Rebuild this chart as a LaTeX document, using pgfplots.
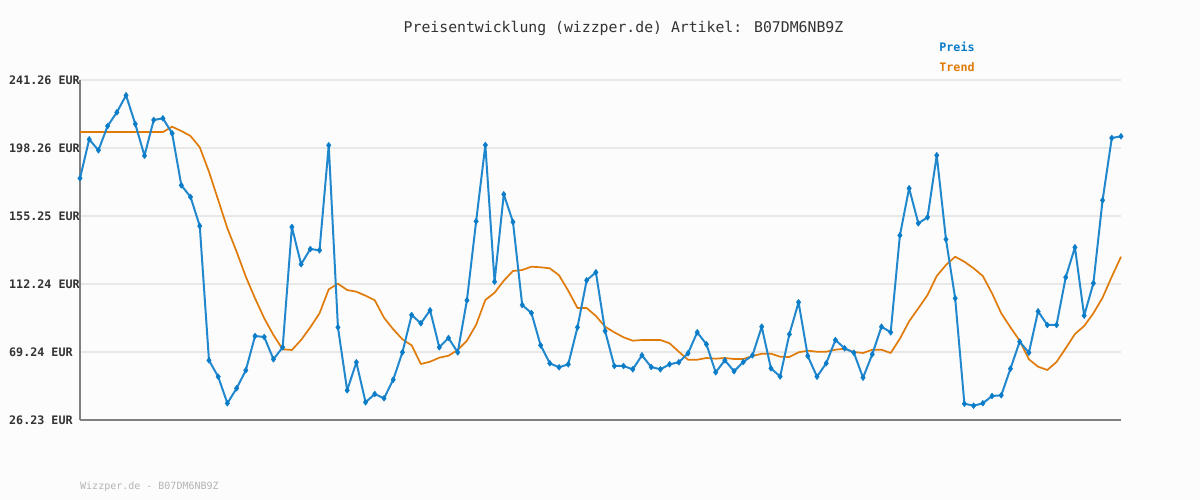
\documentclass[border=0pt]{standalone}
\usepackage{fontspec}
\setmainfont{DejaVu Sans Mono}
\setmonofont{DejaVu Sans Mono}
\usepackage{pgfplots}
\usepackage{pgfplotstable}
\pgfplotsset{compat=1.18}
\definecolor{bgc}{HTML}{FCFCFC}
\definecolor{gridc}{HTML}{E8E8E8}
\definecolor{axc}{HTML}{808080}
\definecolor{preisc}{HTML}{0A7CC8}
\definecolor{preisl}{HTML}{2288CE}
\definecolor{trendc}{HTML}{E07B0A}
\definecolor{txtc}{HTML}{333333}
\definecolor{wmc}{HTML}{B4B4B4}
\pgfplotstableread{
i p t
0 179.08 208.36
1 203.75 208.36
2 196.79 208.36
3 212.16 208.36
4 220.82 208.36
5 231.58 208.36
6 213.42 208.36
7 193.37 208.36
8 215.95 208.36
9 217.03 208.36
10 207.54 211.71
11 174.65 208.99
12 167.26 205.83
13 148.92 198.69
14 63.98 183.26
15 53.61 165.36
16 36.79 147.46
17 46.28 132.66
18 57.66 116.85
19 79.35 103.19
20 78.72 90.55
21 64.62 79.98
22 72.21 70.94
23 148.28 70.50
24 124.70 76.82
25 134.37 84.85
26 133.55 93.71
27 199.95 108.88
28 84.85 112.43
29 45.01 108.44
30 62.72 107.37
31 37.42 104.84
32 42.67 101.93
33 39.95 90.92
34 51.72 83.59
35 69.04 77.26
36 92.63 73.47
37 87.38 61.64
38 95.60 63.10
39 72.21 65.63
40 78.09 66.89
41 69.04 70.50
42 101.93 76.38
43 151.89 86.50
44 200.14 102.12
45 113.69 106.73
46 168.96 114.32
47 151.45 120.46
48 98.96 121.09
49 93.90 123.18
50 73.47 122.80
51 62.09 122.16
52 59.56 117.74
53 61.45 108.00
54 84.85 97.06
55 114.58 97.06
56 119.64 92.00
57 82.51 85.23
58 60.38 81.69
59 60.38 78.53
60 58.29 76.38
61 67.15 76.82
62 59.75 76.82
63 58.29 76.82
64 61.45 74.73
65 62.72 69.42
66 68.41 64.36
67 81.69 64.36
68 74.10 65.44
69 56.40 65.00
70 63.98 65.44
71 57.03 64.81
72 62.91 64.81
73 67.15 66.70
74 85.23 68.16
75 58.92 68.16
76 53.74 66.26
77 80.43 66.07
78 100.66 69.04
79 66.70 70.06
80 53.61 69.42
81 62.09 69.42
82 76.82 70.69
83 71.57 71.32
84 68.79 69.23
85 52.98 68.60
86 67.78 70.69
87 85.23 70.69
88 81.69 68.60
89 143.03 77.64
90 172.76 88.65
91 150.62 96.87
92 154.42 105.28
93 193.63 117.30
94 140.50 124.25
95 103.19 129.50
96 36.54 126.34
97 35.27 122.16
98 36.79 117.30
99 41.41 106.35
100 41.85 93.71
101 58.67 84.85
102 75.75 76.38
103 68.79 64.62
104 94.97 59.94
105 86.31 57.85
106 86.31 62.91
107 116.47 71.57
108 135.44 80.62
109 92.19 85.68
110 112.68 93.71
111 165.17 103.57
112 204.57 116.85
113 205.64 129.50
}\datatable
\begin{document}
\begin{tikzpicture}[x=1pt,y=1pt]
\useasboundingbox (0,0) rectangle (1200,500);
\fill[bgc] (0,0) rectangle (1200,500);
\begin{axis}[
  at={(80pt,80pt)},anchor=south west,
  scale only axis,width=1041pt,height=340pt,
  xmin=0,xmax=113,ymin=26.23,ymax=241.26,
  axis lines=left,
  axis line style={axc,line width=2.2pt,-},
  clip=false,
  xtick=\empty,
  ytick={26.23,69.24,112.24,155.25,198.26,241.26},
  yticklabels={26.23 EUR,69.24 EUR,112.24 EUR,155.25 EUR,198.26 EUR,241.26 EUR},
  ymajorgrids,
  grid style={gridc,line width=2pt},
  major tick length=0pt,
  tick style={draw=none},
  yticklabel style={font=\fontsize{11.7}{12}\selectfont\bfseries,text=txtc,anchor=west,inner sep=0pt,xshift=-71pt},
]
\addplot[trendc,line width=1.7pt,no marks,line join=round] table[x=i,y=t] {\datatable};
\addplot[preisl,line width=2pt,line join=round,mark=diamond*,mark size=3pt,mark options={fill=preisc,draw=preisc,line width=0.4pt}] table[x=i,y=p] {\datatable};
\end{axis}
\node[font=\fontsize{14.8}{15}\selectfont,text=txtc,anchor=center] at (623.5,471.5) {Preisentwicklung (wizzper.de) Artikel: B07DM6NB9Z};
\node[font=\fontsize{11.7}{12}\selectfont\bfseries,text=preisc,anchor=center] at (957,453) {Preis};
\node[font=\fontsize{11.7}{12}\selectfont\bfseries,text=trendc,anchor=center] at (957,433) {Trend};
\node[font=\fontsize{10}{10}\selectfont,text=wmc,anchor=west,inner sep=0pt] at (80,13) {Wizzper.de - B07DM6NB9Z};
\end{tikzpicture}
\end{document}
